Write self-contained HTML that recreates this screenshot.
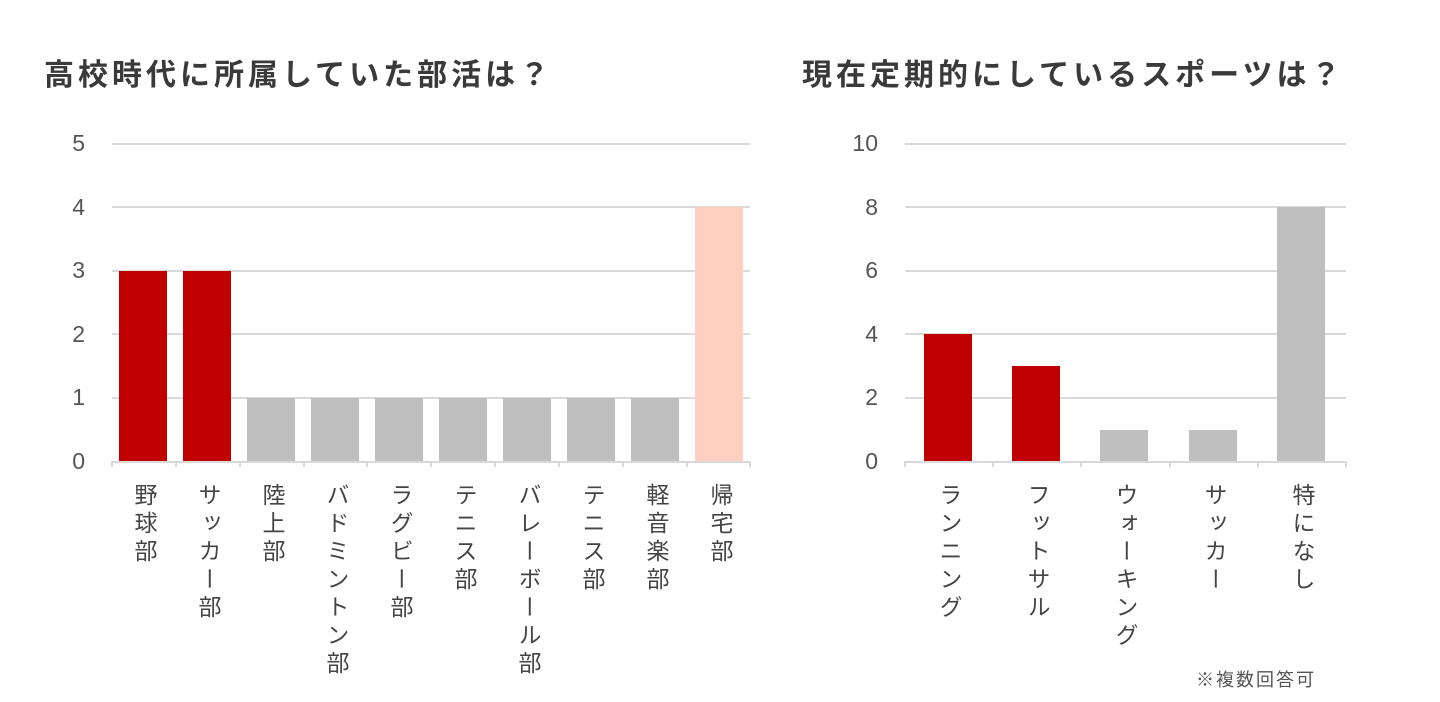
<!DOCTYPE html>
<html><head><meta charset="utf-8"><style>
body{margin:0;width:1440px;height:702px;background:#fff;position:relative;overflow:hidden;font-family:"Liberation Sans","Noto Sans CJK JP",sans-serif;}
.t{position:absolute;font-size:30px;font-weight:bold;color:#3a3a3a;letter-spacing:4px}
.v{position:absolute;top:483px;writing-mode:vertical-rl;font-size:23px;color:#444;letter-spacing:5px;line-height:1;width:24px;text-align:start}
.y{position:absolute;font-size:23px;color:#555;text-align:right;width:40px}
.n{position:absolute;font-size:18px;color:#555;letter-spacing:2px}
</style></head><body>
<div class="t" style="left:44px;top:50px">高校時代に所属していた部活は？</div>
<div class="t" style="left:802px;top:50px">現在定期的にしているスポーツは？</div>
<svg width="1440" height="702" style="position:absolute;left:0;top:0">
<g stroke="#d9d9d9" stroke-width="2">
<line x1="112" x2="750" y1="144" y2="144"/><line x1="112" x2="750" y1="207" y2="207"/><line x1="112" x2="750" y1="271" y2="271"/><line x1="112" x2="750" y1="334" y2="334"/><line x1="112" x2="750" y1="398" y2="398"/>
<line x1="905" x2="1346" y1="144" y2="144"/><line x1="905" x2="1346" y1="207" y2="207"/><line x1="905" x2="1346" y1="271" y2="271"/><line x1="905" x2="1346" y1="334" y2="334"/><line x1="905" x2="1346" y1="398" y2="398"/>
</g>
<g>
<rect x="119" y="271" width="48" height="190" fill="#c00000"/>
<rect x="183" y="271" width="48" height="190" fill="#c00000"/>
<rect x="247" y="398" width="48" height="63" fill="#bfbfbf"/>
<rect x="311" y="398" width="48" height="63" fill="#bfbfbf"/>
<rect x="375" y="398" width="48" height="63" fill="#bfbfbf"/>
<rect x="439" y="398" width="48" height="63" fill="#bfbfbf"/>
<rect x="503" y="398" width="48" height="63" fill="#bfbfbf"/>
<rect x="567" y="398" width="48" height="63" fill="#bfbfbf"/>
<rect x="631" y="398" width="48" height="63" fill="#bfbfbf"/>
<rect x="695" y="207" width="48" height="254" fill="#ffcfc2"/>
<rect x="924" y="334" width="48" height="127" fill="#c00000"/>
<rect x="1012" y="366" width="48" height="95" fill="#c00000"/>
<rect x="1100" y="430" width="48" height="31" fill="#bfbfbf"/>
<rect x="1189" y="430" width="48" height="31" fill="#bfbfbf"/>
<rect x="1277" y="207" width="48" height="254" fill="#bfbfbf"/>
</g>
<g stroke="#d9d9d9" stroke-width="2">
<line x1="111" x2="751" y1="462" y2="462"/>
<line x1="112" x2="112" y1="462" y2="467"/><line x1="176" x2="176" y1="462" y2="467"/><line x1="240" x2="240" y1="462" y2="467"/><line x1="304" x2="304" y1="462" y2="467"/><line x1="367" x2="367" y1="462" y2="467"/><line x1="431" x2="431" y1="462" y2="467"/><line x1="495" x2="495" y1="462" y2="467"/><line x1="559" x2="559" y1="462" y2="467"/><line x1="623" x2="623" y1="462" y2="467"/><line x1="687" x2="687" y1="462" y2="467"/><line x1="750" x2="750" y1="462" y2="467"/>
<line x1="904" x2="1347" y1="462" y2="462"/>
<line x1="905" x2="905" y1="462" y2="467"/><line x1="993" x2="993" y1="462" y2="467"/><line x1="1081" x2="1081" y1="462" y2="467"/><line x1="1170" x2="1170" y1="462" y2="467"/><line x1="1258" x2="1258" y1="462" y2="467"/><line x1="1346" x2="1346" y1="462" y2="467"/>
</g>
</svg>
<div class="y" style="left:45px;top:130px">5</div>
<div class="y" style="left:45px;top:194px">4</div>
<div class="y" style="left:45px;top:257px">3</div>
<div class="y" style="left:45px;top:321px">2</div>
<div class="y" style="left:45px;top:384px">1</div>
<div class="y" style="left:45px;top:448px">0</div>
<div class="y" style="left:838px;top:130px">10</div>
<div class="y" style="left:838px;top:194px">8</div>
<div class="y" style="left:838px;top:257px">6</div>
<div class="y" style="left:838px;top:321px">4</div>
<div class="y" style="left:838px;top:384px">2</div>
<div class="y" style="left:838px;top:448px">0</div>
<div class="v" style="left:131px">野球部</div>
<div class="v" style="left:195px">サッカー部</div>
<div class="v" style="left:259px">陸上部</div>
<div class="v" style="left:323px">バドミントン部</div>
<div class="v" style="left:387px">ラグビー部</div>
<div class="v" style="left:451px">テニス部</div>
<div class="v" style="left:515px">バレーボール部</div>
<div class="v" style="left:579px">テニス部</div>
<div class="v" style="left:643px">軽音楽部</div>
<div class="v" style="left:707px">帰宅部</div>
<div class="v" style="left:936px">ランニング</div>
<div class="v" style="left:1024px">フットサル</div>
<div class="v" style="left:1112px">ウォーキング</div>
<div class="v" style="left:1201px">サッカー</div>
<div class="v" style="left:1289px">特になし</div>
<div class="n" style="left:1196px;top:666px">※複数回答可</div>
</body></html>
